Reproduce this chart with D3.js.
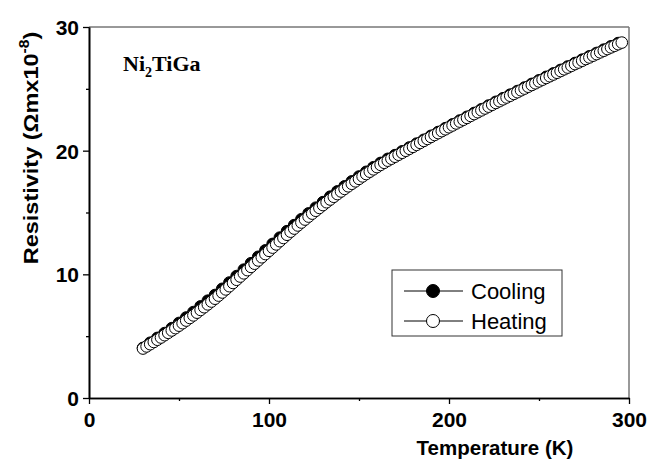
<!DOCTYPE html>
<html>
<head>
<meta charset="utf-8">
<script src="https://cdn.jsdelivr.net/npm/d3@7/dist/d3.min.js"></script>
<style>
  html, body { margin: 0; padding: 0; background: #fff; }
  svg { display: block; }
</style>
</head>
<body>
<svg id="chart" width="649" height="461"></svg>
<script>
// Ni2TiGa resistivity vs temperature (cooling and heating runs)
const heatingT = [
  30, 32, 34, 36, 38, 40, 42, 44, 46, 48, 50, 52, 54, 56, 58, 60, 62, 64, 66, 68,
  70, 72, 74, 76, 78, 80, 82, 84, 86, 88, 90, 92, 94, 96, 98, 100, 102, 104, 106, 108,
  110, 112, 114, 116, 118, 120, 122, 124, 126, 128, 130, 132, 134, 136, 138, 140, 142, 144, 146, 148,
  150, 152, 154, 156, 158, 160, 162, 164, 166, 168, 170, 172, 174, 176, 178, 180, 182, 184, 186, 188,
  190, 192, 194, 196, 198, 200, 202, 204, 206, 208, 210, 212, 214, 216, 218, 220, 222, 224, 226, 228,
  230, 232, 234, 236, 238, 240, 242, 244, 246, 248, 250, 252, 254, 256, 258, 260, 262, 264, 266, 268,
  270, 272, 274, 276, 278, 280, 282, 284, 286, 288, 290, 292, 294, 296
];
const heatingRho = [
  4.00, 4.17, 4.35, 4.53, 4.71, 4.89, 5.08, 5.27, 5.46, 5.65, 5.85, 6.05, 6.26, 6.47, 6.68, 6.90, 7.12, 7.34, 7.57, 7.80,
  8.03, 8.28, 8.53, 8.78, 9.04, 9.30, 9.56, 9.82, 10.08, 10.34, 10.60, 10.86, 11.12, 11.38, 11.64, 11.90, 12.16, 12.42, 12.68, 12.94,
  13.20, 13.45, 13.70, 13.95, 14.19, 14.43, 14.67, 14.91, 15.14, 15.37, 15.60, 15.83, 16.05, 16.27, 16.49, 16.70, 16.91, 17.12, 17.32, 17.52,
  17.72, 17.92, 18.11, 18.30, 18.49, 18.67, 18.85, 19.02, 19.19, 19.35, 19.51, 19.67, 19.83, 19.99, 20.15, 20.31, 20.47, 20.63, 20.79, 20.95,
  21.11, 21.27, 21.42, 21.58, 21.73, 21.89, 22.04, 22.20, 22.35, 22.50, 22.65, 22.81, 22.96, 23.11, 23.26, 23.41, 23.56, 23.71, 23.86, 24.00,
  24.15, 24.30, 24.44, 24.59, 24.73, 24.88, 25.02, 25.17, 25.31, 25.45, 25.60, 25.74, 25.88, 26.02, 26.16, 26.30, 26.44, 26.58, 26.72, 26.86,
  27.00, 27.13, 27.27, 27.41, 27.54, 27.68, 27.81, 27.95, 28.08, 28.22, 28.35, 28.48, 28.61, 28.74
];
const coolingT = [
  30, 34, 38, 42, 46, 50, 54, 58, 62, 66, 70, 74, 78, 82, 86, 90, 94, 98, 102, 106,
  110, 114, 118, 122, 126, 130, 134, 138, 142, 146, 150, 154, 158, 162, 166, 170, 174, 178, 182, 186,
  190, 194, 198, 202, 206, 210, 214, 218, 222, 226, 230, 234, 238, 242, 246, 250, 254, 258, 262, 266,
  270, 274, 278, 282, 286, 290, 294
];
const coolingRho = [
  4.05, 4.47, 4.86, 5.25, 5.65, 6.07, 6.51, 6.95, 7.41, 7.87, 8.33, 8.83, 9.34, 9.86, 10.38, 10.90, 11.42, 11.94, 12.46, 12.97,
  13.49, 13.98, 14.46, 14.93, 15.39, 15.84, 16.28, 16.71, 17.12, 17.52, 17.91, 18.29, 18.66, 19.01, 19.34, 19.64, 19.95, 20.26, 20.57, 20.88,
  21.20, 21.51, 21.82, 22.13, 22.44, 22.74, 23.05, 23.35, 23.65, 23.95, 24.24, 24.53, 24.82, 25.11, 25.40, 25.69, 25.97, 26.25, 26.53, 26.81,
  27.09, 27.36, 27.63, 27.90, 28.17, 28.44, 28.70
];
const xTicks = [0, 100, 200, 300];
const xMinorTicks = [50, 150, 250];
const yTicks = [0, 10, 20, 30];
const yMinorTicks = [5, 15, 25];
const seriesNames = ["Cooling", "Heating"];

const svg = d3.select("#chart");
const plot = { left: 89, right: 629, top: 27, bottom: 398 };
const sans = "Arial, 'Liberation Sans', Helvetica, sans-serif";

const x = d3.scaleLinear().domain([0, 300]).range([plot.left, plot.right]);
const y = d3.scaleLinear().domain([0, 30]).range([plot.bottom, plot.top]);

// frame: top and right edges
svg.append("line").attr("x1", plot.left).attr("x2", plot.right)
  .attr("y1", plot.top).attr("y2", plot.top)
  .attr("stroke", "#333").attr("stroke-width", 1);
svg.append("line").attr("x1", plot.right).attr("x2", plot.right)
  .attr("y1", plot.top).attr("y2", plot.bottom)
  .attr("stroke", "#777").attr("stroke-width", 1.5);

// axes
const xAxis = svg.append("g").attr("transform", `translate(0,${plot.bottom})`)
  .call(d3.axisBottom(x).tickValues(xTicks).tickFormat(d3.format("d")).tickSize(6).tickSizeOuter(0));
const xMinor = svg.append("g").attr("transform", `translate(0,${plot.bottom})`)
  .call(d3.axisBottom(x).tickValues(xMinorTicks).tickFormat("").tickSize(3).tickSizeOuter(0));
const yAxis = svg.append("g").attr("transform", `translate(${plot.left},0)`)
  .call(d3.axisLeft(y).tickValues(yTicks).tickFormat(d3.format("d")).tickSize(6).tickSizeOuter(0));
const yMinor = svg.append("g").attr("transform", `translate(${plot.left},0)`)
  .call(d3.axisLeft(y).tickValues(yMinorTicks).tickFormat("").tickSize(3).tickSizeOuter(0));

[xAxis, xMinor, yAxis, yMinor].forEach(g => {
  g.select(".domain").attr("stroke", "#000").attr("stroke-width", 1.6);
  g.selectAll(".tick line").attr("stroke", "#000").attr("stroke-width", 1.3);
  g.selectAll(".tick text").attr("fill", "#000")
    .style("font-family", sans).style("font-weight", "bold").style("font-size", "21px");
});
xAxis.selectAll(".tick text").attr("y", 14).attr("dy", "0.71em");
yAxis.selectAll(".tick text").attr("x", -10).attr("dy", "0.36em");

// axis titles
svg.append("text")
  .attr("x", 495).attr("y", 455)
  .attr("text-anchor", "middle")
  .style("font-family", sans).style("font-weight", "bold").style("font-size", "20.5px")
  .text("Temperature (K)");

const yTitle = svg.append("text")
  .attr("transform", "translate(38,148) rotate(-90) scale(1.12,1)")
  .attr("text-anchor", "middle")
  .style("font-family", sans).style("font-weight", "bold").style("font-size", "21px");
yTitle.append("tspan").text("Resistivity (Ωmx10");
yTitle.append("tspan").attr("dy", -9).style("font-size", "14px").text("-8");
yTitle.append("tspan").attr("dy", 9).text(")");

// compound label
const comp = svg.append("text")
  .attr("x", 123).attr("y", 71)
  .style("font-family", "'Times New Roman', 'Liberation Serif', serif")
  .style("font-weight", "bold").style("font-size", "22px");
comp.append("tspan").text("Ni");
comp.append("tspan").attr("dy", 6).style("font-size", "14px").text("2");
comp.append("tspan").attr("dy", -6).text("TiGa");

// data series
const cooling = coolingT.map((t, i) => ({ t, r: coolingRho[i] }));
const heating = heatingT.map((t, i) => ({ t, r: heatingRho[i] }));
const line = d3.line().x(d => x(d.t)).y(d => y(d.r));

svg.append("path").datum(cooling).attr("d", line)
  .attr("fill", "none").attr("stroke", "#000").attr("stroke-width", 1);
svg.append("g").selectAll("circle").data(cooling).join("circle")
  .attr("cx", d => x(d.t)).attr("cy", d => y(d.r)).attr("r", 5.8)
  .attr("fill", "#000").attr("stroke", "#000").attr("stroke-width", 1);

svg.append("path").datum(heating).attr("d", line)
  .attr("fill", "none").attr("stroke", "#000").attr("stroke-width", 1);
svg.append("g").selectAll("circle").data(heating).join("circle")
  .attr("cx", d => x(d.t)).attr("cy", d => y(d.r)).attr("r", 5.8)
  .attr("fill", "#fff").attr("stroke", "#000").attr("stroke-width", 1);

// legend
const legend = svg.append("g").attr("transform", "translate(392,270)");
legend.append("rect").attr("x", 0).attr("y", 0).attr("width", 170).attr("height", 66)
  .attr("fill", "#fff").attr("stroke", "#333").attr("stroke-width", 1);
seriesNames.forEach((name, i) => {
  const ly = 21 + i * 30;
  legend.append("line").attr("x1", 12).attr("x2", 71).attr("y1", ly).attr("y2", ly)
    .attr("stroke", "#000").attr("stroke-width", 1);
  legend.append("circle").attr("cx", 41).attr("cy", ly).attr("r", 6.5)
    .attr("fill", i === 0 ? "#000" : "#fff").attr("stroke", "#000").attr("stroke-width", 1);
  legend.append("text").attr("x", 79).attr("y", ly).attr("dy", "0.36em")
    .style("font-family", sans).style("font-size", "22px")
    .text(name);
});
</script>
</body>
</html>
